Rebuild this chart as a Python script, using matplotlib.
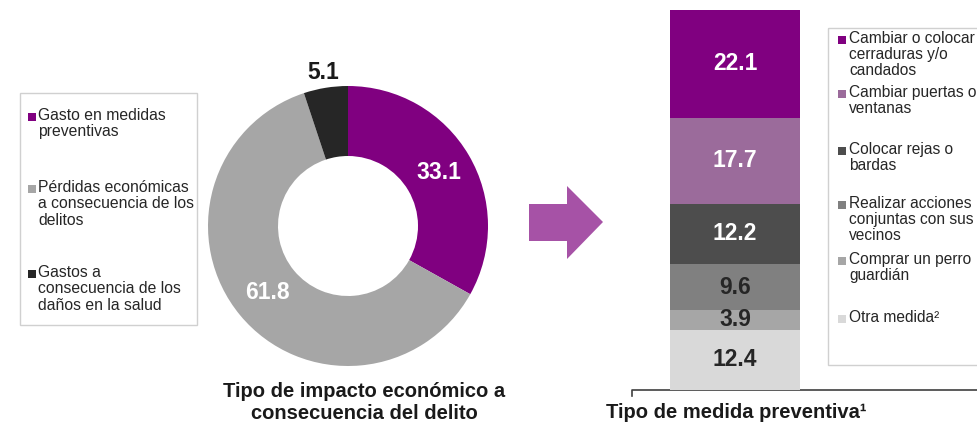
import matplotlib.pyplot as plt
import numpy as np
from matplotlib.patches import Rectangle, Polygon

plt.rcParams['font.family'] = ['Liberation Sans', 'DejaVu Sans']

# donut: tipo de impacto economico
impacto = ["Gasto en medidas\npreventivas",
           "Pérdidas económicas\na consecuencia de los\ndelitos",
           "Gastos a\nconsecuencia de los\ndaños en la salud"]
impacto_val = [33.1, 61.8, 5.1]
impacto_col = ["#800080", "#a6a6a6", "#262626"]

# stacked bar: tipo de medida preventiva (bottom -> top)
medidas = ["Otra medida²", "Comprar un perro\nguardián",
           "Realizar acciones\nconjuntas con sus\nvecinos", "Colocar rejas o\nbardas",
           "Cambiar puertas o\nventanas", "Cambiar o colocar\ncerraduras y/o\ncandados"]
medidas_val = [12.4, 3.9, 9.6, 12.2, 17.7, 22.1]
medidas_col = ["#d9d9d9", "#a6a6a6", "#808080", "#4d4d4d", "#9b6b9b", "#800080"]
medidas_txt = ["#262626", "#262626", "#262626", "white", "white", "white"]

W, H = 977, 424
fig = plt.figure(figsize=(W / 100, H / 100), dpi=100)

def px_axes(x0, y0, x1, y1):
    return fig.add_axes([x0 / W, 1 - y1 / H, (x1 - x0) / W, (y1 - y0) / H])

# ---- donut
ax1 = px_axes(208, 86, 488, 366)
wedges, _ = ax1.pie(impacto_val, colors=impacto_col, startangle=90, counterclock=False,
                    wedgeprops=dict(width=0.5, edgecolor="none"))
ax1.set_xlim(-1, 1)
ax1.set_ylim(-1, 1)
ax1.set_aspect("auto")
for w, v in zip(wedges, impacto_val):
    ang = np.deg2rad((w.theta1 + w.theta2) / 2)
    if v < 10:
        r, c = 1.11, "#1a1a1a"
    else:
        r, c = 0.75, "white"
    ax1.text(r * np.cos(ang), r * np.sin(ang), f"{v:.1f}", ha="center", va="center",
             fontsize=16.5, fontweight="bold", color=c)

# ---- stacked bar
ax2 = px_axes(670, 10, 800, 390)
bottom = 0
for v, col, tc in zip(medidas_val, medidas_col, medidas_txt):
    ax2.bar(0, v, bottom=bottom, width=1, color=col, edgecolor="none")
    ax2.text(0, bottom + v / 2, f"{v:.1f}", ha="center", va="center",
             fontsize=16.5, fontweight="bold", color=tc)
    bottom += v
ax2.set_xlim(-0.5, 0.5)
ax2.set_ylim(0, bottom)
ax2.axis("off")

# ---- overlay in pixel coords: legends, arrow, bracket, titles
ov = fig.add_axes([0, 0, 1, 1], zorder=-1)
ov.set_xlim(0, W)
ov.set_ylim(H, 0)
ov.axis("off")

# left legend (first-line baselines)
ov.add_patch(Rectangle((20, 93), 177, 232, fill=False, edgecolor="#d0d0d0", lw=1))
for base, lab, col in zip([122, 194, 279], impacto, impacto_col):
    ov.add_patch(Rectangle((28, base - 9), 8, 8, color=col, lw=0))
    ov.text(38, base - 14, lab, ha="left", va="top", fontsize=11.3, color="#262626",
            linespacing=1.12)

# right legend
ov.add_patch(Rectangle((828, 28), 160, 337, fill=False, edgecolor="#d0d0d0", lw=1))
for base, lab, col in zip([45, 99, 156, 210, 266, 324], medidas[::-1], medidas_col[::-1]):
    ov.add_patch(Rectangle((838, base - 9), 8, 8, color=col, lw=0))
    ov.text(849, base - 14, lab, ha="left", va="top", fontsize=11.2, color="#262626",
            linespacing=1.1)

# arrow
ov.add_patch(Polygon([(529, 204), (567, 204), (567, 186), (603, 222), (567, 259),
                      (567, 241), (529, 241)], closed=True, color="#a652a6", lw=0))

# bracket under bar
ov.plot([632, 632, W], [396, 390, 390], color="#404040", lw=1.2)

ov.text(364, 397, "Tipo de impacto económico a", ha="center", va="baseline",
        fontsize=14.5, fontweight="bold", color="#1a1a1a")
ov.text(364, 419, "consecuencia del delito", ha="center", va="baseline",
        fontsize=14.5, fontweight="bold", color="#1a1a1a")
ov.text(736, 418, "Tipo de medida preventiva¹", ha="center", va="baseline",
        fontsize=14.5, fontweight="bold", color="#1a1a1a")

fig.savefig("out.png", dpi=100)
